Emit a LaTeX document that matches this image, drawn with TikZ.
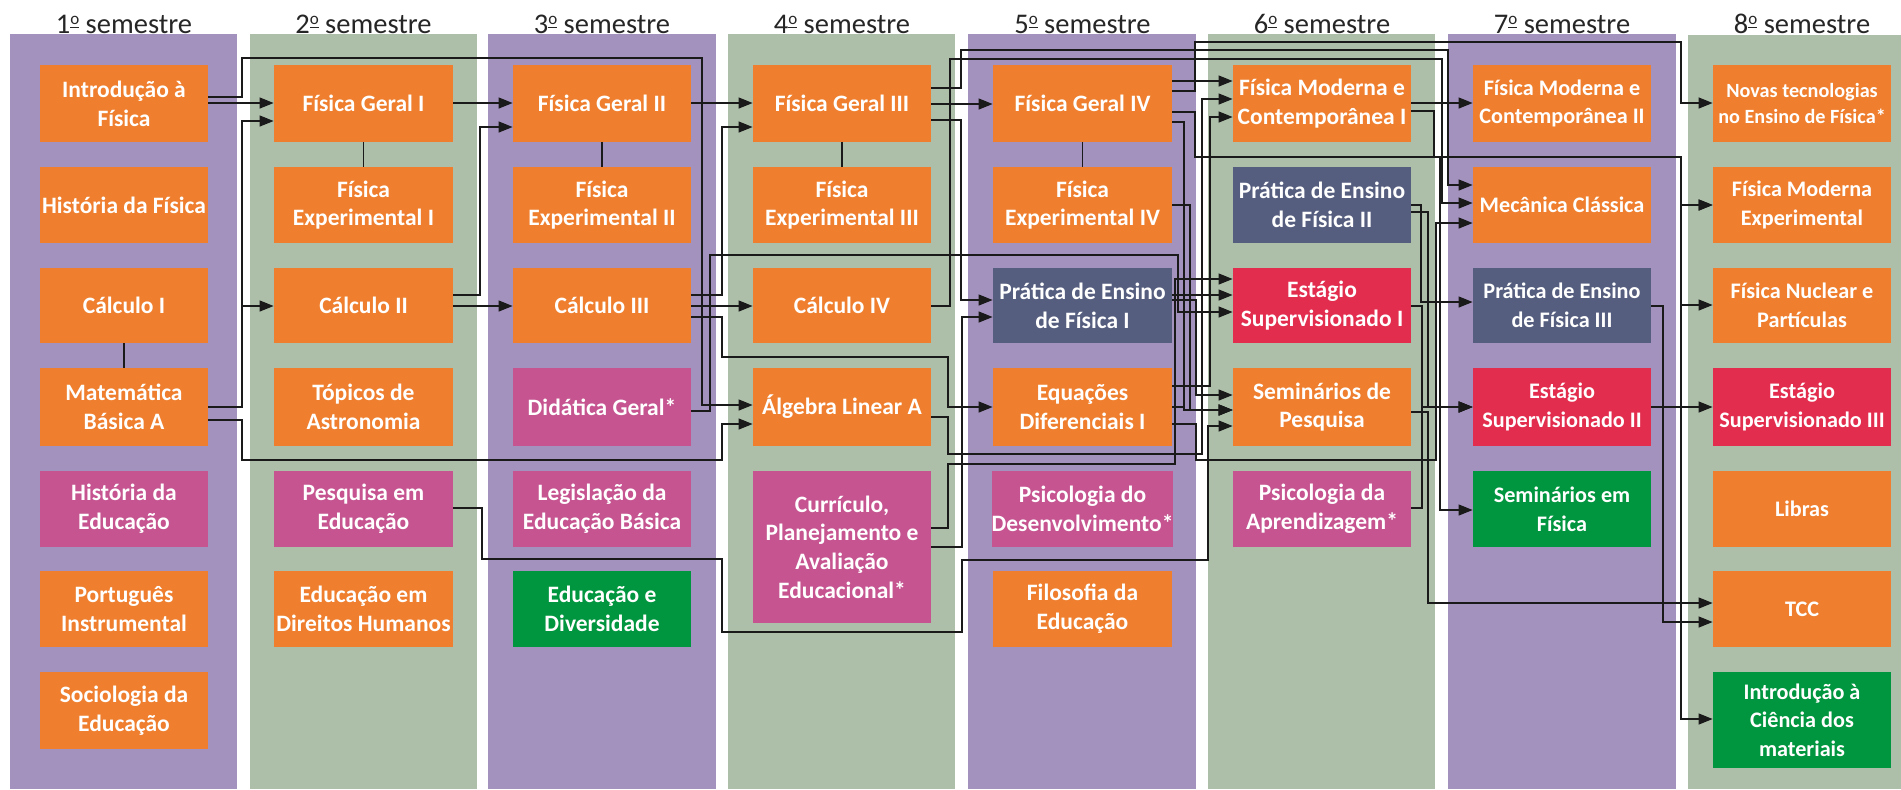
\documentclass[tikz,border=0pt]{standalone}
\usepackage{fontspec}
\setmainfont{Carlito}
\usetikzlibrary{arrows.meta}
\definecolor{bgP}{HTML}{A492BE}
\definecolor{bgG}{HTML}{ADBFA9}
\definecolor{cOr}{HTML}{EF7F2E}
\definecolor{cMg}{HTML}{C55490}
\definecolor{cSl}{HTML}{565E7F}
\definecolor{cRd}{HTML}{E32D4E}
\definecolor{cGr}{HTML}{00963F}
\definecolor{lineC}{HTML}{1A1A1A}
\definecolor{hdrC}{HTML}{262626}
\newcommand\ordo{\raisebox{0.62ex}{\fontsize{8.5}{8.5}\selectfont\underline{o}}}
\newcommand\crsnode[8]{\node[crs,fill=#6,minimum width={(#3-#2)*0.5pt},minimum height={(#5-#4)*0.5pt},#8] (#1) at ({(#2+#3)/2},{(#4+#5)/2}) {#7};}
\tikzset{
  crs/.style={draw=none,inner sep=0pt,align=center,text=white,font=\bfseries\fontsize{11.75}{14.35}\selectfont},
  smallf/.style={font=\bfseries\fontsize{11.1}{14.35}\selectfont},
  tinyf/.style={font=\bfseries\fontsize{10.1}{12.9}\selectfont},
  hdr/.style={anchor=base,inner sep=0pt,text=hdrC,font=\fontsize{14.25}{17}\selectfont},
  conn/.style={line width=0.6pt,draw=lineC},
  arr/.style={conn,-{Triangle[length=7pt,width=5.5pt]}},
}
\begin{document}
\begin{tikzpicture}[x=0.5pt,y=-0.5pt]
\useasboundingbox (0,0) rectangle (1901,789);
\fill[white] (0,0) rectangle (1901,789);
% column backgrounds
\fill[bgP] (10,34) rectangle (237,789);
\fill[bgG] (250,34) rectangle (477,789);
\fill[bgP] (488,34) rectangle (716,789);
\fill[bgG] (728,34) rectangle (955,789);
\fill[bgP] (968,34) rectangle (1196,789);
\fill[bgG] (1208,34) rectangle (1435,789);
\fill[bgP] (1448,34) rectangle (1676,789);
\fill[bgG] (1688,35) rectangle (1901,789);
% headers
\node[hdr] (h1) at (124,33) {1\ordo{} semestre};
\node[hdr] (h2) at (363.5,33) {2\ordo{} semestre};
\node[hdr] (h3) at (602,33) {3\ordo{} semestre};
\node[hdr] (h4) at (842,33) {4\ordo{} semestre};
\node[hdr] (h5) at (1082.5,33) {5\ordo{} semestre};
\node[hdr] (h6) at (1322,33) {6\ordo{} semestre};
\node[hdr] (h7) at (1562,33) {7\ordo{} semestre};
\node[hdr] (h8) at (1802,33) {8\ordo{} semestre};
% column 1
\crsnode{intro}{40}{208}{65}{142}{cOr}{Introdução à\\Física}{}
\crsnode{hfis}{40}{208}{167}{243}{cOr}{História da Física}{}
\crsnode{calc1}{40}{208}{268}{343}{cOr}{Cálculo I}{}
\crsnode{matb}{40}{208}{368}{446}{cOr}{Matemática\\Básica A}{}
\crsnode{hedu}{40}{208}{471}{547}{cMg}{História da\\Educação}{}
\crsnode{port}{40}{208}{571}{647}{cOr}{Português\\Instrumental}{}
\crsnode{soc}{40}{208}{672}{749}{cOr}{Sociologia da\\Educação}{}
% column 2
\crsnode{fg1}{274}{453}{65}{142}{cOr}{Física Geral I}{}
\crsnode{fe1}{274}{453}{167}{243}{cOr}{Física\\Experimental I}{}
\crsnode{calc2}{274}{453}{268}{343}{cOr}{Cálculo II}{}
\crsnode{topa}{274}{453}{368}{446}{cOr}{Tópicos de\\Astronomia}{}
\crsnode{pesq}{274}{453}{471}{547}{cMg}{Pesquisa em\\Educação}{}
\crsnode{edh}{274}{453}{571}{647}{cOr}{Educação em\\Direitos Humanos}{}
% column 3
\crsnode{fg2}{513}{691}{65}{142}{cOr}{Física Geral II}{}
\crsnode{fe2}{513}{691}{167}{243}{cOr}{Física\\Experimental II}{}
\crsnode{calc3}{513}{691}{268}{343}{cOr}{Cálculo III}{}
\crsnode{did}{513}{691}{368}{446}{cMg}{Didática Geral*}{}
\crsnode{leg}{513}{691}{471}{547}{cMg}{Legislação da\\Educação Básica}{}
\crsnode{ediv}{513}{691}{571}{647}{cGr}{Educação e\\Diversidade}{}
% column 4
\crsnode{fg3}{753}{931}{65}{142}{cOr}{Física Geral III}{}
\crsnode{fe3}{753}{931}{167}{243}{cOr}{Física\\Experimental III}{}
\crsnode{calc4}{753}{931}{268}{343}{cOr}{Cálculo IV}{}
\crsnode{alg}{753}{931}{368}{446}{cOr}{Álgebra Linear A}{}
\crsnode{curr}{753}{931}{471}{623}{cMg}{Currículo,\\Planejamento e\\Avaliação\\Educacional*}{}
% column 5
\crsnode{fg4}{993}{1172}{65}{142}{cOr}{Física Geral IV}{}
\crsnode{fe4}{993}{1172}{167}{243}{cOr}{Física\\Experimental IV}{}
\crsnode{pe1}{993}{1172}{268}{343}{cSl}{Prática de Ensino\\de Física I}{}
\crsnode{eqd}{993}{1172}{368}{446}{cOr}{Equações\\Diferenciais I}{}
\crsnode{psid}{993}{1172}{471}{547}{cMg}{Psicologia do\\Desenvolvimento*}{}
\crsnode{fil}{993}{1172}{571}{647}{cOr}{Filosofia da\\Educação}{}
% column 6
\crsnode{fmc1}{1233}{1411}{65}{142}{cOr}{Física Moderna e\\Contemporânea I}{}
\crsnode{pe2}{1233}{1411}{167}{243}{cSl}{Prática de Ensino\\de Física II}{}
\crsnode{est1}{1233}{1411}{268}{343}{cRd}{Estágio\\Supervisionado I}{}
\crsnode{semp}{1233}{1411}{368}{446}{cOr}{Seminários de\\Pesquisa}{}
\crsnode{psia}{1233}{1411}{471}{547}{cMg}{Psicologia da\\Aprendizagem*}{}
% column 7
\crsnode{fmc2}{1473}{1651}{65}{142}{cOr}{Física Moderna e\\Contemporânea II}{smallf}
\crsnode{mec}{1473}{1651}{167}{243}{cOr}{Mecânica Clássica}{smallf}
\crsnode{pe3}{1473}{1651}{268}{343}{cSl}{Prática de Ensino\\de Física III}{smallf}
\crsnode{est2}{1473}{1651}{368}{446}{cRd}{Estágio\\Supervisionado II}{smallf}
\crsnode{semf}{1473}{1651}{471}{547}{cGr}{Seminários em\\Física}{smallf}
% column 8
\crsnode{nov}{1713}{1891}{65}{142}{cOr}{Novas tecnologias\\no Ensino de Física*}{tinyf}
\crsnode{fme}{1713}{1891}{167}{243}{cOr}{Física Moderna\\Experimental}{smallf}
\crsnode{fnp}{1713}{1891}{268}{343}{cOr}{Física Nuclear e\\Partículas}{smallf}
\crsnode{est3}{1713}{1891}{368}{446}{cRd}{Estágio\\Supervisionado III}{smallf}
\crsnode{lib}{1713}{1891}{471}{547}{cOr}{Libras}{smallf}
\crsnode{tcc}{1713}{1891}{571}{647}{cOr}{TCC}{smallf}
\crsnode{icm}{1713}{1891}{672}{768}{cGr}{Introdução à\\Ciência dos\\materiais}{smallf}
% plain links
\draw[conn] (calc1) -- (matb);
\draw[conn] (fg1) -- (fe1);
\draw[conn] (fg2) -- (fe2);
\draw[conn] (fg3) -- (fe3);
\draw[conn] (fg4) -- (fe4);
% column 1 -> 2
\draw[arr] (intro.east|-0,103) -- (fg1.west|-0,103);
\draw[arr] (intro.east|-0,97) -| (242,58) -| (702,405) -- (alg.west|-0,405);
\draw[arr] (matb.east|-0,407) -| (242,121) -- (fg1.west|-0,121);
\draw[arr] (matb.east|-0,407) -| (242,306) -- (calc2.west|-0,306);
\draw[arr] (matb.east|-0,420) -| (242,460) -| (722,424) -- (alg.west|-0,424);
% column 2 -> 3
\draw[arr] (fg1.east|-0,103) -- (fg2.west|-0,103);
\draw[arr] (calc2.east|-0,295) -| (480,127) -- (fg2.west|-0,127);
\draw[arr] (calc2.east|-0,306) -- (calc3.west|-0,306);
\draw[arr] (pesq.east|-0,508) -| (482,559) -| (722,632) -| (962,560) -| (1208,426) -- (semp.west|-0,426);
% column 3 -> 4
\draw[arr] (fg2.east|-0,103) -- (fg3.west|-0,103);
\draw[arr] (calc3.east|-0,295) -| (722,127) -- (fg3.west|-0,127);
\draw[arr] (calc3.east|-0,306) -- (calc4.west|-0,306);
\draw[arr] (calc3.east|-0,317) -| (722,357) -| (948,407) -- (eqd.west|-0,407);
\draw[arr] (did.east|-0,411) -| (710,255) -| (1178,312) -- (est1.west|-0,312);
% column 4 ->
\draw[arr] (fg3.east|-0,104) -- (fg4.west|-0,104);
\draw[arr] (fg3.east|-0,88) -| (961,50) -| (1448,185) -- (mec.west|-0,185);
\draw[arr] (fg3.east|-0,120) -| (961,300) -- (pe1.west|-0,300);
\draw[arr] (calc4.east|-0,306) -| (950,59) -| (1442,203) -- (mec.west|-0,203);
\draw[arr] (alg.east|-0,417) -| (948,454) -| (1202,99) -- (fmc1.west|-0,99);
\draw[arr] (curr.east|-0,528) -| (948,464) -| (1175,279) -- (est1.west|-0,279);
\draw[arr] (curr.east|-0,547) -| (962,317) -- (pe1.west|-0,317);
% column 5 ->
\draw[arr] (fg4.east|-0,81) -- (fmc1.west|-0,81);
\draw[arr] (fg4.east|-0,91) -| (1195,42) -| (1681,103) -- (nov.west|-0,103);
\coordinate (jn) at (1681,157);
\draw[arr] (fg4.east|-0,112) -| (1195,157) -| (1681,205) -- (fme.west|-0,205);
\draw[arr] (jn) |- (fnp.west|-0,305);
\draw[arr] (jn) |- (icm.west|-0,719);
\draw[arr] (fg4.east|-0,122) -| (1184,410) -- (semp.west|-0,410);
\draw[arr] (fe4.east|-0,205) -| (1190,410) -- (semp.west|-0,410);
\draw[arr] (eqd.east|-0,407) -| (1184,410) -- (semp.west|-0,410);
\draw[arr] (pe1.east|-0,295) -- (est1.west|-0,295);
\draw[arr] (pe1.east|-0,300) -| (1196,395) -- (semp.west|-0,395);
\draw[arr] (eqd.east|-0,386) -| (1210,117) -- (fmc1.west|-0,117);
\draw[arr] (eqd.east|-0,424) -| (1196,460) -| (1436,223) -- (mec.west|-0,223);
% column 6 ->
\draw[arr] (fmc1.east|-0,103) -- (fmc2.west|-0,103);
\draw[arr] (fmc1.east|-0,111) -| (1434,157) -| (1681,205) -- (fme.west|-0,205);
\draw[arr] (fmc1.east|-0,111) -| (1434,157) -| (1440,510) -- (semf.west|-0,510);
\draw[arr] (pe2.east|-0,205) -| (1421,302) -- (pe3.west|-0,302);
\draw[arr] (pe2.east|-0,212) -| (1428,407) -- (est2.west|-0,407);
\draw[arr] (est1.east|-0,306) -| (1422,407) -- (est2.west|-0,407);
\draw[arr] (psia.east|-0,508) -| (1422,407) -- (est2.west|-0,407);
\draw[arr] (semp.east|-0,412) -| (1428,603) -- (tcc.west|-0,603);
% column 7 -> 8
\draw[arr] (pe3.east|-0,306) -| (1663,622) -- (tcc.west|-0,622);
\draw[arr] (est2.east|-0,407) -- (est3.west|-0,407);
\end{tikzpicture}
\end{document}
